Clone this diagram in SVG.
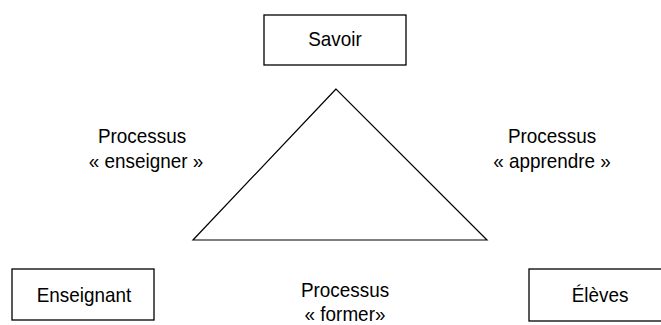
<svg xmlns="http://www.w3.org/2000/svg" width="661" height="325" viewBox="0 0 661 325">
<style>
.box{fill:#fff;stroke:#000;stroke-width:1.3}
.t{font-family:"Liberation Sans",Arial,sans-serif;font-size:21px;fill:#000;text-anchor:middle}
.tri{fill:none;stroke:#000;stroke-width:1.2}
</style>
<rect width="661" height="325" fill="#fff"/>
<g id="savoir">
<rect class="box" x="264" y="15" width="142" height="50"/>
<text class="t" transform="translate(335,46) scale(0.9,1)">Savoir</text>
</g>
<g id="enseignant">
<rect class="box" x="12" y="269" width="142" height="51"/>
<text class="t" transform="translate(84,302) scale(0.9,1)">Enseignant</text>
</g>
<g id="eleves">
<rect class="box" x="529" y="269" width="140" height="52"/>
<text class="t" transform="translate(600,302) scale(0.9,1)">Élèves</text>
</g>
<g id="connectors">
<polygon class="tri" points="336,89 193,240 487,240"/>
</g>
<g id="labels">
<text class="t" transform="translate(142,143) scale(0.9,1)">Processus</text>
<text class="t" transform="translate(146,168) scale(0.9,1)">« enseigner »</text>
<text class="t" transform="translate(552,143) scale(0.9,1)">Processus</text>
<text class="t" transform="translate(552,168) scale(0.9,1)">« apprendre »</text>
<text class="t" transform="translate(345,297) scale(0.9,1)">Processus</text>
<text class="t" transform="translate(345,321) scale(0.9,1)">« former»</text>
</g>
</svg>
